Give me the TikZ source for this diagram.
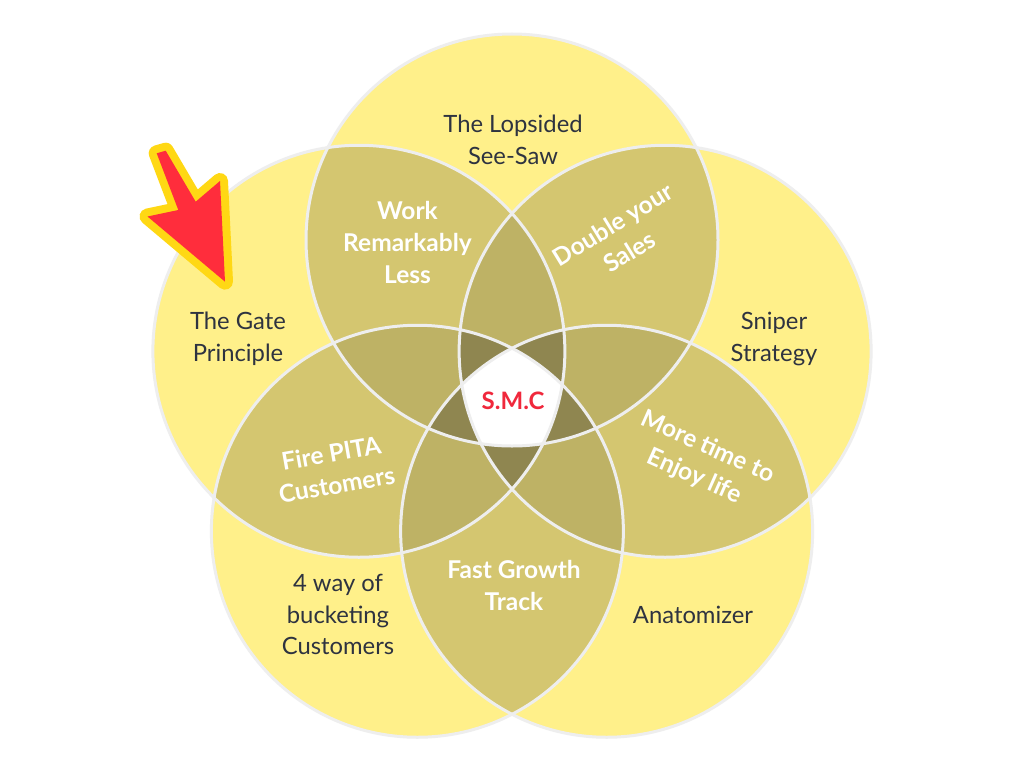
\documentclass[tikz,border=0pt]{standalone}
\usepackage{fontspec}
\setmainfont{Lato}
\definecolor{lv1}{HTML}{FFF08A}
\definecolor{lv2}{HTML}{D4C670}
\definecolor{lv3}{HTML}{BEB265}
\definecolor{lv4}{HTML}{8F8650}
\definecolor{rim}{HTML}{EEEEEE}
\definecolor{darktxt}{HTML}{2E3340}
\definecolor{smcred}{HTML}{F0283C}
\definecolor{arrred}{HTML}{FF2D3C}
\definecolor{arryel}{HTML}{FFD814}
\tikzset{
  plain/.style={inner sep=0pt, align=center, text=darktxt, font=\fontsize{23.8}{31.5}\selectfont},
  boldw/.style={inner sep=0pt, align=center, text=white, font=\bfseries\fontsize{24.5}{32}\selectfont},
  smcstyle/.style={inner sep=0pt, text=smcred, font=\bfseries\fontsize{24}{30}\selectfont},
  rimline/.style={draw=rim, line width=3pt},
}
\begin{document}
\begin{tikzpicture}[x=1pt,y=-1pt]
\useasboundingbox (0,0) rectangle (1024,768);
\fill[white] (0,0) rectangle (1024,768);
% circle centres
\coordinate (c1) at (512,240);
\coordinate (c2) at (358.88,351.25);
\coordinate (c3) at (665.12,351.25);
\coordinate (c4) at (417.37,531.25);
\coordinate (c5) at (606.63,531.25);
\def\R{206pt}
% level 1
\foreach \i in {1,...,5} { \fill[lv1] (c\i) circle[radius=\R]; }
% level 2
\foreach \i/\j in {1/2,1/3,1/4,1/5,2/3,2/4,2/5,3/4,3/5,4/5} {
  \begin{scope}
    \clip (c\i) circle[radius=\R];
    \fill[lv2] (c\j) circle[radius=\R];
  \end{scope}
}
% level 3
\foreach \i/\j/\k in {1/2/3,1/2/4,1/2/5,1/3/4,1/3/5,1/4/5,2/3/4,2/3/5,2/4/5,3/4/5} {
  \begin{scope}
    \clip (c\i) circle[radius=\R];
    \clip (c\j) circle[radius=\R];
    \fill[lv3] (c\k) circle[radius=\R];
  \end{scope}
}
% level 4
\foreach \i/\j/\k/\l in {1/2/3/4,1/2/3/5,1/2/4/5,1/3/4/5,2/3/4/5} {
  \begin{scope}
    \clip (c\i) circle[radius=\R];
    \clip (c\j) circle[radius=\R];
    \clip (c\k) circle[radius=\R];
    \fill[lv4] (c\l) circle[radius=\R];
  \end{scope}
}
% level 5
\begin{scope}
  \clip (c1) circle[radius=\R];
  \clip (c2) circle[radius=\R];
  \clip (c3) circle[radius=\R];
  \clip (c4) circle[radius=\R];
  \fill[white] (c5) circle[radius=\R];
\end{scope}
% outlines
\foreach \i in {1,...,5} { \draw[rimline] (c\i) circle[radius=\R]; }
% arrow
\def\arrowpath{(156.7,153.3) -- (165.7,150.7) -- (195.7,201.7) -- (220,181) -- (225,281.7) -- (147.5,216.5) -- (178.3,210) -- cycle}
\draw[draw=arryel, line width=16pt, line join=round] \arrowpath;
\fill[arrred] \arrowpath;
% texts
\node[plain] (lop) at (513,140) {The Lopsided\\See-Saw};
\node[plain] (gate) at (238,339) {The Gate\\Principle};
\node[plain] (sniper) at (774,339) {Sniper\\Strategy};
\node[plain] (anat) at (693,615) {Anatomizer};
\node[plain] (bucket) at (338,614.5) {4 way of\\bucketing\\Customers};
\node[boldw] (work) at (407.5,242.5) {Work\\Remarkably\\Less};
\node[boldw, rotate=31.5] (double) at (621,238) {Double your\\Sales};
\node[boldw, rotate=-24] (more) at (701,462) {More time to\\Enjoy life};
\node[boldw] (fast) at (514,585) {Fast Growth\\Track};
\node[boldw, rotate=10] (fire) at (334,469) {Fire PITA\\Customers};
\node[smcstyle] (smc) at (513,401) {S.M.C};
\end{tikzpicture}
\end{document}
